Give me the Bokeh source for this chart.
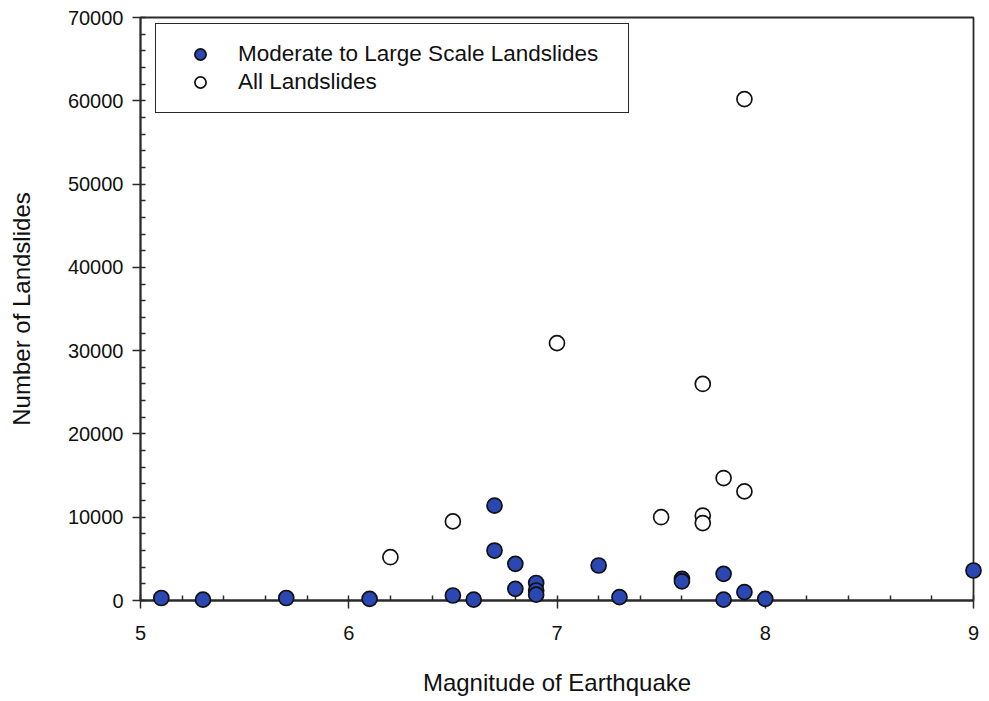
from bokeh.plotting import figure
from bokeh.models import Legend, LegendItem, Range1d, SingleIntervalTicker, ColumnDataSource
from bokeh.embed import file_html
from bokeh.resources import INLINE

# Data
mag_moderate = [5.1, 5.3, 5.7, 6.1, 6.5, 6.6, 6.7, 6.7, 6.8, 6.8, 6.9, 6.9, 6.9,
                7.2, 7.3, 7.6, 7.6, 7.8, 7.8, 7.9, 8.0, 9.0]
n_moderate = [300, 100, 300, 200, 600, 100, 11400, 6000, 4400, 1400, 2100, 1200, 700,
              4200, 400, 2600, 2300, 3200, 100, 1000, 200, 3600]

mag_all = [6.2, 6.5, 7.0, 7.5, 7.7, 7.7, 7.7, 7.8, 7.9, 7.9]
n_all = [5200, 9500, 30900, 10000, 26000, 10200, 9300, 14700, 13100, 60200]

series_labels = ["Moderate to Large Scale Landslides", "All Landslides"]
x_title = "Magnitude of Earthquake"
y_title = "Number of Landslides"

FONT = "Liberation Sans"
BLUE = "#2b47b3"
INK = "#2a2a2a"

p = figure(width=989, height=701, output_backend="svg", toolbar_location=None,
           x_range=Range1d(5, 9), y_range=Range1d(0, 70000),
           min_border_left=140, min_border_right=16, min_border_top=17, min_border_bottom=101)
p.xgrid.visible = False
p.ygrid.visible = False
p.outline_line_color = INK
p.outline_line_width = 1.8
p.outline_line_alpha = 1.0
p.background_fill_color = "white"
p.border_fill_color = "white"

for ax in (p.xaxis[0], p.yaxis[0]):
    ax.axis_line_color = INK
    ax.axis_line_width = 1.8
    ax.major_tick_line_color = INK
    ax.minor_tick_line_color = INK
    ax.major_tick_line_width = 1.5
    ax.minor_tick_line_width = 1.5
    ax.major_tick_in = 0
    ax.major_tick_out = 8
    ax.minor_tick_in = 5
    ax.minor_tick_out = 0
    ax.major_label_text_font = FONT
    ax.major_label_text_font_size = "20px"
    ax.major_label_text_color = "#111111"
    ax.axis_label_text_font = FONT
    ax.axis_label_text_font_size = "24px"
    ax.axis_label_text_font_style = "normal"
    ax.axis_label_text_color = "#111111"

p.xaxis[0].ticker = SingleIntervalTicker(interval=1, num_minor_ticks=5)
p.yaxis[0].ticker = SingleIntervalTicker(interval=10000, num_minor_ticks=5)
p.xaxis[0].axis_label = x_title
p.yaxis[0].axis_label = y_title
p.xaxis[0].major_label_standoff = 17
p.xaxis[0].axis_label_standoff = 26
p.yaxis[0].major_label_standoff = 9
p.yaxis[0].axis_label_standoff = 30

src_all = ColumnDataSource(dict(x=mag_all, y=n_all))
src_mod = ColumnDataSource(dict(x=mag_moderate, y=n_moderate))

r_all = p.scatter("x", "y", source=src_all, size=15, fill_color="white",
                  line_color="#111111", line_width=1.7, level="overlay")
r_mod = p.scatter("x", "y", source=src_mod, size=15, fill_color=BLUE,
                  line_color="#111111", line_width=1.7, level="overlay")

legend = Legend(items=[LegendItem(label=series_labels[0], renderers=[r_mod]),
                       LegendItem(label=series_labels[1], renderers=[r_all])],
                location=(15, 487), orientation="vertical",
                padding=16, glyph_width=56, glyph_height=28, label_standoff=10,
                label_width=374, label_height=28, spacing=0, margin=0,
                label_text_font=FONT, label_text_font_size="22.5px",
                label_text_color="#111111",
                border_line_color=INK, border_line_width=1.8, border_line_alpha=1.0,
                background_fill_color="white", background_fill_alpha=1.0)
p.add_layout(legend)

open("out.html", "w").write(file_html(p, INLINE))
